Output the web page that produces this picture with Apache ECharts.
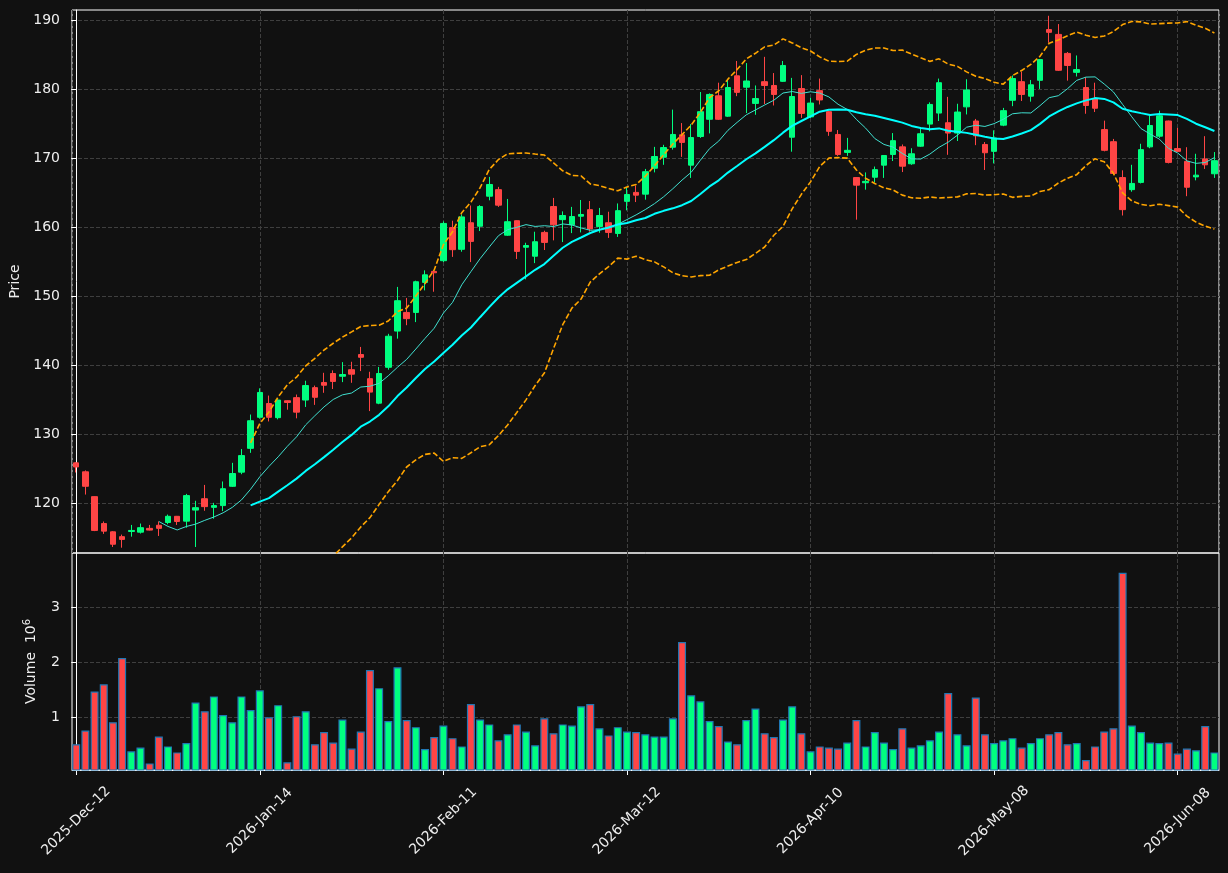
<!DOCTYPE html>
<html>
<head>
    <meta charset="utf-8">
    <script src="https://cdn.jsdelivr.net/npm/echarts@6.0.0/dist/echarts.min.js"></script>
    <style>html, body { margin: 0; padding: 0; background: #111111; }</style>
</head>
<body>
    <div id="main" style="width:1228px; height:873px;"></div>
<script type="text/javascript">
// trading days (index = candle position)
var dates = [
    '2025-Dec-12', '2025-Dec-15', '2025-Dec-16', '2025-Dec-17', '2025-Dec-18', '2025-Dec-19',
    '2025-Dec-22', '2025-Dec-23', '2025-Dec-24', '2025-Dec-29', '2025-Dec-30', '2025-Dec-31',
    '2026-Jan-02', '2026-Jan-05', '2026-Jan-06', '2026-Jan-07', '2026-Jan-08', '2026-Jan-09',
    '2026-Jan-12', '2026-Jan-13', '2026-Jan-14', '2026-Jan-15', '2026-Jan-16', '2026-Jan-19',
    '2026-Jan-20', '2026-Jan-21', '2026-Jan-22', '2026-Jan-23', '2026-Jan-26', '2026-Jan-27',
    '2026-Jan-28', '2026-Jan-29', '2026-Jan-30', '2026-Feb-02', '2026-Feb-03', '2026-Feb-04',
    '2026-Feb-05', '2026-Feb-06', '2026-Feb-09', '2026-Feb-10', '2026-Feb-11', '2026-Feb-12',
    '2026-Feb-13', '2026-Feb-17', '2026-Feb-18', '2026-Feb-19', '2026-Feb-20', '2026-Feb-23',
    '2026-Feb-24', '2026-Feb-25', '2026-Feb-26', '2026-Feb-27', '2026-Mar-02', '2026-Mar-03',
    '2026-Mar-04', '2026-Mar-05', '2026-Mar-06', '2026-Mar-09', '2026-Mar-10', '2026-Mar-11',
    '2026-Mar-12', '2026-Mar-13', '2026-Mar-16', '2026-Mar-17', '2026-Mar-18', '2026-Mar-19',
    '2026-Mar-20', '2026-Mar-23', '2026-Mar-24', '2026-Mar-25', '2026-Mar-26', '2026-Mar-27',
    '2026-Mar-30', '2026-Mar-31', '2026-Apr-01', '2026-Apr-02', '2026-Apr-06', '2026-Apr-07',
    '2026-Apr-08', '2026-Apr-09', '2026-Apr-10', '2026-Apr-13', '2026-Apr-14', '2026-Apr-15',
    '2026-Apr-16', '2026-Apr-17', '2026-Apr-20', '2026-Apr-21', '2026-Apr-22', '2026-Apr-23',
    '2026-Apr-24', '2026-Apr-27', '2026-Apr-28', '2026-Apr-29', '2026-Apr-30', '2026-May-01',
    '2026-May-04', '2026-May-05', '2026-May-06', '2026-May-07', '2026-May-08', '2026-May-11',
    '2026-May-12', '2026-May-13', '2026-May-14', '2026-May-15', '2026-May-18', '2026-May-19',
    '2026-May-20', '2026-May-21', '2026-May-22', '2026-May-26', '2026-May-27', '2026-May-28',
    '2026-May-29', '2026-Jun-01', '2026-Jun-02', '2026-Jun-03', '2026-Jun-04', '2026-Jun-05',
    '2026-Jun-08', '2026-Jun-09', '2026-Jun-10', '2026-Jun-11', '2026-Jun-12'
];

var opens = [
    125.9, 124.6, 121.0, 117.1, 115.9, 115.2, 115.95, 115.85, 116.4, 116.85,
    117.25, 118.15, 117.45, 119.05, 120.7, 119.45, 119.7, 122.5, 124.55, 128.0,
    132.5, 134.5, 132.45, 134.9, 135.35, 135.0, 136.8, 137.55, 138.85, 138.45,
    139.4, 141.6, 138.1, 134.55, 139.75, 145.0, 147.7, 147.7, 152.05, 153.65,
    155.2, 160.0, 156.85, 160.7, 160.2, 164.55, 165.5, 158.9, 161.0, 157.15,
    155.85, 159.3, 163.05, 161.15, 160.4, 161.65, 162.6, 160.15, 160.7, 159.15,
    163.8, 165.1, 164.85, 168.6, 170.2, 171.65, 173.45, 169.05, 173.2, 175.7,
    179.1, 176.15, 182.0, 180.35, 178.0, 181.15, 180.6, 181.2, 173.1, 180.15,
    176.05, 179.85, 176.8, 173.5, 170.9, 167.25, 166.5, 167.3, 169.05, 170.6,
    171.7, 169.25, 171.8, 175.0, 176.6, 175.2, 173.7, 177.5, 175.45, 172.05,
    171.05, 174.85, 178.45, 181.15, 179.05, 181.35, 188.7, 188.0, 185.25, 182.5,
    180.3, 178.65, 174.2, 172.45, 167.25, 165.5, 166.55, 171.7, 173.25, 175.45,
    171.45, 169.6, 167.35, 169.95, 167.8
];
var closes = [
    125.3, 122.5, 116.1, 116.0, 114.1, 114.8, 116.1, 116.5, 116.15, 116.4,
    118.15, 117.4, 121.15, 119.4, 119.55, 119.7, 122.15, 124.35, 126.95, 132.0,
    136.1, 132.5, 135.0, 134.65, 133.25, 137.1, 135.4, 137.15, 137.7, 138.7,
    138.75, 141.2, 136.15, 138.85, 144.25, 149.4, 146.8, 152.15, 153.15, 153.45,
    160.6, 156.8, 161.55, 158.0, 163.05, 166.25, 163.25, 160.85, 156.55, 157.4,
    157.95, 157.85, 160.4, 161.75, 161.6, 161.9, 159.8, 161.75, 159.3, 162.45,
    164.8, 164.7, 168.1, 170.3, 171.6, 173.5, 172.35, 173.05, 176.8, 179.3,
    175.7, 180.3, 179.6, 181.25, 178.7, 180.6, 179.3, 183.5, 179.0, 176.55,
    178.05, 178.5, 173.95, 170.6, 171.2, 166.15, 166.7, 168.4, 170.45, 172.6,
    168.9, 170.7, 173.6, 177.85, 181.0, 173.7, 176.75, 179.95, 173.3, 170.85,
    173.0, 176.95, 181.6, 179.3, 180.7, 184.35, 188.3, 182.8, 183.5, 182.9,
    177.7, 177.3, 171.2, 167.85, 162.6, 166.4, 171.3, 174.8, 176.2, 169.45,
    171.05, 165.85, 167.6, 169.1, 169.7
];
var lows = [
    124.5, 121.3, 116.0, 115.6, 113.7, 113.6, 115.2, 115.65, 116.1, 115.3,
    117.0, 116.9, 116.5, 113.7, 118.95, 117.8, 118.9, 122.4, 124.25, 127.35,
    132.3, 131.9, 132.2, 133.6, 132.35, 134.0, 134.3, 136.05, 136.6, 137.6,
    137.5, 139.2, 133.4, 134.4, 139.4, 143.9, 145.85, 146.3, 150.9, 150.7,
    155.0, 155.75, 156.5, 155.0, 159.5, 163.95, 163.0, 158.8, 155.45, 152.5,
    154.85, 156.75, 158.15, 157.9, 159.2, 159.3, 159.4, 159.25, 158.5, 158.65,
    162.5, 163.7, 164.05, 168.0, 169.1, 171.3, 170.25, 167.2, 173.0, 173.65,
    175.6, 176.05, 179.05, 176.6, 176.35, 177.9, 177.7, 181.1, 171.0, 175.9,
    175.9, 177.85, 173.3, 170.4, 170.4, 161.15, 165.5, 166.55, 167.2, 169.65,
    168.05, 169.1, 171.7, 173.95, 175.45, 170.55, 172.55, 176.4, 171.95, 168.35,
    169.3, 174.7, 177.6, 178.35, 178.25, 180.1, 186.8, 182.7, 181.3, 181.9,
    176.5, 176.75, 171.05, 167.7, 161.75, 165.2, 166.4, 171.5, 173.0, 169.3,
    170.95, 164.55, 166.85, 168.5, 167.2
];
var highs = [
    126.0, 124.8, 121.05, 117.4, 116.0, 115.5, 116.9, 117.1, 116.9, 117.4,
    118.4, 118.2, 121.4, 120.4, 122.7, 120.1, 123.2, 125.9, 127.9, 132.9,
    136.7, 135.65, 135.1, 134.95, 135.8, 137.8, 137.1, 138.95, 139.3, 140.5,
    140.55, 142.7, 139.1, 139.8, 144.6, 151.4, 149.8, 152.3, 153.8, 153.7,
    160.9, 161.0, 161.9, 163.2, 163.25, 167.35, 165.9, 164.15, 161.05, 157.8,
    159.4, 159.55, 164.3, 162.35, 163.0, 164.0, 163.85, 162.85, 162.3, 163.5,
    165.75, 166.1, 168.5, 171.7, 172.0, 177.1, 175.15, 175.0, 179.65, 179.45,
    181.0, 181.45, 184.15, 183.85, 180.6, 184.75, 182.4, 184.15, 181.7, 182.1,
    178.8, 181.6, 176.9, 174.15, 173.0, 167.3, 168.0, 168.85, 170.5, 173.7,
    172.05, 171.5, 174.45, 178.15, 181.6, 178.95, 177.95, 181.5, 175.75, 172.4,
    174.1, 177.35, 182.05, 182.6, 181.4, 184.4, 190.7, 189.5, 185.45, 184.95,
    181.8, 181.0, 175.5, 172.85, 168.3, 169.1, 172.15, 176.25, 176.95, 175.5,
    174.45, 171.65, 170.7, 173.25, 170.95
];
// volume in millions
var volumes = [
    0.51, 0.76, 1.47, 1.60, 0.91, 2.08, 0.38, 0.45, 0.16, 0.65,
    0.47, 0.36, 0.53, 1.27, 1.11, 1.38, 1.04, 0.91, 1.38, 1.13,
    1.49, 1.00, 1.22, 0.18, 1.02, 1.11, 0.51, 0.73, 0.54, 0.96,
    0.43, 0.74, 1.86, 1.53, 0.93, 1.91, 0.95, 0.82, 0.42, 0.64,
    0.85, 0.62, 0.47, 1.24, 0.96, 0.87, 0.58, 0.69, 0.87, 0.74,
    0.49, 0.98, 0.71, 0.87, 0.85, 1.20, 1.24, 0.80, 0.67, 0.82,
    0.74, 0.73, 0.69, 0.65, 0.65, 0.98, 2.37, 1.40, 1.29, 0.93,
    0.84, 0.56, 0.51, 0.95, 1.16, 0.71, 0.64, 0.96, 1.20, 0.71,
    0.38, 0.47, 0.45, 0.43, 0.54, 0.95, 0.47, 0.73, 0.54, 0.42,
    0.80, 0.45, 0.49, 0.58, 0.74, 1.44, 0.69, 0.49, 1.36, 0.69,
    0.53, 0.58, 0.62, 0.45, 0.53, 0.62, 0.69, 0.73, 0.51, 0.53,
    0.22, 0.47, 0.74, 0.80, 3.63, 0.85, 0.73, 0.54, 0.53, 0.54,
    0.34, 0.43, 0.40, 0.84, 0.36
];
var dateTicks = [0, 20, 40, 60, 80, 100, 120];
var priceTicks = [120, 130, 140, 150, 160, 170, 180, 190];
var volumeTicks = [1, 2, 3];

var upColor = '#00ff80';
var downColor = '#ff4545';
var textColor = '#eeeeee';
var gridLine = { show: true, lineStyle: { color: '#3f3f3f', type: [4, 2], width: 1 } };
var font = 'DejaVu Sans';

// indicators from the closes
function sma(arr, n) {
    var out = [];
    for (var i = n - 1; i < arr.length; i++) {
        var s = 0;
        for (var j = i - n + 1; j <= i; j++) s += arr[j];
        out.push([i, s / n]);
    }
    return out;
}
function bollinger(arr, n, k) {
    var up = [], low = [];
    for (var i = n - 1; i < arr.length; i++) {
        var s = 0, q = 0;
        for (var j = i - n + 1; j <= i; j++) s += arr[j];
        var m = s / n;
        for (var j = i - n + 1; j <= i; j++) q += (arr[j] - m) * (arr[j] - m);
        var sd = Math.sqrt(q / n);
        up.push([i, m + k * sd]);
        low.push([i, m - k * sd]);
    }
    return { up: up, low: low };
}

var candles = [], vols = [];
for (var i = 0; i < dates.length; i++) {
    candles.push([i, opens[i], closes[i], lows[i], highs[i]]);
    vols.push({
        value: [i, volumes[i]],
        itemStyle: { color: closes[i] >= opens[i] ? upColor : downColor }
    });
}
var bb = bollinger(closes, 20, 2);

var myChart = echarts.init(document.getElementById('main'));
var option = {
    animation: false,
    backgroundColor: '#111111',
    textStyle: { fontFamily: font },
    grid: [
        { left: 72, right: 9, top: 10, height: 543, show: true, borderColor: '#ffffff', borderWidth: 1, backgroundColor: 'transparent' },
        { left: 72, right: 9, top: 553, height: 217, show: true, borderColor: '#ffffff', borderWidth: 1, backgroundColor: 'transparent' }
    ],
    xAxis: [
        {
            type: 'value', gridIndex: 0, min: -0.46, max: 124.5, minInterval: 20, maxInterval: 20,
            axisLine: { show: false }, axisTick: { show: false }, axisLabel: { show: false },
            splitLine: gridLine
        },
        {
            type: 'value', gridIndex: 1, min: -0.46, max: 124.5, minInterval: 20, maxInterval: 20,
            axisLine: { show: true, onZero: false, lineStyle: { color: '#ffffff' } },
            axisTick: { show: true, length: 5, customValues: dateTicks, lineStyle: { color: '#ffffff' } },
            axisLabel: {
                customValues: dateTicks,
                rotate: 45, align: 'center', verticalAlign: 'middle', margin: 51,
                color: textColor, fontSize: 14, fontFamily: font,
                formatter: function (v) {
                    var k = Math.round(v);
                    return Math.abs(v - k) < 1e-6 && k % 20 === 0 ? dates[k] : '';
                }
            },
            splitLine: gridLine
        }
    ],
    yAxis: [
        {
            type: 'value', gridIndex: 0, min: 112.83, max: 191.54, minInterval: 10, maxInterval: 10,
            name: 'Price', nameLocation: 'middle', nameRotate: 90, nameGap: 47,
            nameTextStyle: { color: textColor, fontSize: 14, fontFamily: font },
            axisLine: { show: true, lineStyle: { color: '#ffffff' } },
            axisTick: { show: true, length: 5, customValues: priceTicks, lineStyle: { color: '#ffffff' } },
            axisLabel: {
                customValues: priceTicks,
                color: textColor, fontSize: 14, fontFamily: font, margin: 12
            },
            splitLine: gridLine
        },
        {
            type: 'value', gridIndex: 1, min: 0.04, max: 3.99, minInterval: 1, maxInterval: 1,
            name: '{a|Volume  10}{s|6}', nameLocation: 'middle', nameRotate: 90, nameGap: 31,
            nameTextStyle: {
                color: textColor, fontSize: 14, fontFamily: font,
                rich: {
                    a: { color: textColor, fontSize: 14, fontFamily: font, lineHeight: 18 },
                    s: { color: textColor, fontSize: 10, fontFamily: font, lineHeight: 10, padding: [0, 0, 8, 0] }
                }
            },
            axisLine: { show: true, lineStyle: { color: '#ffffff' } },
            axisTick: { show: true, length: 5, customValues: volumeTicks, lineStyle: { color: '#ffffff' } },
            axisLabel: {
                customValues: volumeTicks,
                color: textColor, fontSize: 14, fontFamily: font, margin: 12
            },
            splitLine: gridLine
        }
    ],
    series: [
        {
            type: 'candlestick', xAxisIndex: 0, yAxisIndex: 0,
            data: candles, encode: { x: 0, y: [1, 2, 3, 4] },
            barWidth: 6,
            itemStyle: { color: upColor, color0: downColor, borderColor: upColor, borderColor0: downColor, borderWidth: 1 }
        },
        {
            type: 'line', xAxisIndex: 0, yAxisIndex: 0, data: sma(closes, 10),
            showSymbol: false, lineStyle: { color: '#40e0d0', width: 1 }
        },
        {
            type: 'line', xAxisIndex: 0, yAxisIndex: 0, data: sma(closes, 20),
            showSymbol: false, lineStyle: { color: '#00ffff', width: 2 }
        },
        {
            type: 'line', xAxisIndex: 0, yAxisIndex: 0, data: bb.up,
            showSymbol: false, lineStyle: { color: '#ffa500', width: 1.6, type: [5.5, 2.4] }
        },
        {
            type: 'line', xAxisIndex: 0, yAxisIndex: 0, data: bb.low,
            showSymbol: false, lineStyle: { color: '#ffa500', width: 1.6, type: [5.5, 2.4] }
        },
        {
            type: 'bar', xAxisIndex: 1, yAxisIndex: 1, data: vols,
            barWidth: 8, itemStyle: { borderColor: '#1f77b4', borderWidth: 1.2 }
        }
    ]
};
myChart.setOption(option);
</script>
</body>
</html>
